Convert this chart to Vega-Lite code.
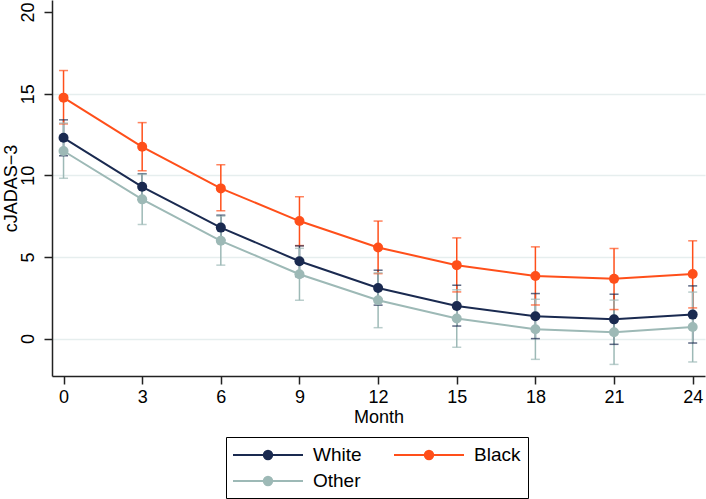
{
  "$schema": "https://vega.github.io/schema/vega-lite/v6.json",
  "width": 653,
  "height": 376,
  "autosize": {"type": "none"},
  "padding": {"left": 52, "top": 0, "right": 1, "bottom": 123},
  "background": "white",
  "config": {
    "view": {"stroke": null},
    "font": "Liberation Sans",
    "axis": {
      "labelFont": "Liberation Sans",
      "titleFont": "Liberation Sans",
      "labelFontSize": 18,
      "titleFontSize": 18,
      "titleFontWeight": "normal",
      "labelColor": "#000000",
      "titleColor": "#000000",
      "domainColor": "#222222",
      "tickColor": "#222222",
      "domainWidth": 1.5,
      "tickWidth": 1.5,
      "tickSize": 8
    },
    "legend": {
      "labelFont": "Liberation Sans",
      "labelFontSize": 19,
      "labelColor": "#000000"
    }
  },
  "data": {
    "values": [
      {"month": 0, "group": "White", "mean": 12.3, "lo": 11.2, "hi": 13.4},
      {"month": 3, "group": "White", "mean": 9.3, "lo": 8.5, "hi": 10.1},
      {"month": 6, "group": "White", "mean": 6.8, "lo": 6.04, "hi": 7.56},
      {"month": 9, "group": "White", "mean": 4.74, "lo": 3.8, "hi": 5.68},
      {"month": 12, "group": "White", "mean": 3.1, "lo": 2.05, "hi": 4.19},
      {"month": 15, "group": "White", "mean": 2.0, "lo": 0.77, "hi": 3.27},
      {"month": 18, "group": "White", "mean": 1.37, "lo": 0.0, "hi": 2.76},
      {"month": 21, "group": "White", "mean": 1.18, "lo": -0.35, "hi": 2.72},
      {"month": 24, "group": "White", "mean": 1.47, "lo": -0.27, "hi": 3.23},
      {"month": 0, "group": "Black", "mean": 14.76, "lo": 13.15, "hi": 16.42},
      {"month": 3, "group": "Black", "mean": 11.75, "lo": 10.28, "hi": 13.23},
      {"month": 6, "group": "Black", "mean": 9.2, "lo": 7.83, "hi": 10.65},
      {"month": 9, "group": "Black", "mean": 7.2, "lo": 5.7, "hi": 8.69},
      {"month": 12, "group": "Black", "mean": 5.58, "lo": 3.98, "hi": 7.2},
      {"month": 15, "group": "Black", "mean": 4.5, "lo": 2.86, "hi": 6.17},
      {"month": 18, "group": "Black", "mean": 3.84, "lo": 2.06, "hi": 5.62},
      {"month": 21, "group": "Black", "mean": 3.66, "lo": 1.78, "hi": 5.52},
      {"month": 24, "group": "Black", "mean": 3.96, "lo": 1.88, "hi": 5.99},
      {"month": 0, "group": "Other", "mean": 11.49, "lo": 9.82, "hi": 13.2},
      {"month": 3, "group": "Other", "mean": 8.53, "lo": 6.99, "hi": 10.07},
      {"month": 6, "group": "Other", "mean": 5.99, "lo": 4.5, "hi": 7.5},
      {"month": 9, "group": "Other", "mean": 3.94, "lo": 2.35, "hi": 5.53},
      {"month": 12, "group": "Other", "mean": 2.35, "lo": 0.67, "hi": 4.03},
      {"month": 15, "group": "Other", "mean": 1.23, "lo": -0.53, "hi": 2.99},
      {"month": 18, "group": "Other", "mean": 0.57, "lo": -1.27, "hi": 2.41},
      {"month": 21, "group": "Other", "mean": 0.39, "lo": -1.58, "hi": 2.36},
      {"month": 24, "group": "Other", "mean": 0.71, "lo": -1.43, "hi": 2.85}
    ]
  },
  "encoding": {
    "x": {
      "field": "month",
      "type": "quantitative",
      "scale": {"domain": [-0.44, 24.47], "nice": false, "zero": false},
      "axis": {
        "values": [0, 3, 6, 9, 12, 15, 18, 21, 24],
        "title": "Month",
        "grid": false,
        "labelPadding": 4,
        "titlePadding": 2
      }
    },
    "color": {
      "field": "group",
      "type": "nominal",
      "scale": {"domain": ["White", "Black", "Other"], "range": ["#1a2a50", "#ff4f1a", "#9db9b6"]},
      "legend": {
        "title": null,
        "orient": "none",
        "legendX": 174,
        "legendY": 437,
        "direction": "horizontal",
        "columns": 2,
        "symbolType": "M-3.5,0L3.5,0M-0.42,0A0.42,0.42,0,1,1,0.42,0A0.42,0.42,0,1,1,-0.42,0Z",
        "symbolSize": 400,
        "symbolStrokeWidth": 2,
        "symbolOffset": 24,
        "labelOffset": 34,
        "columnPadding": 28,
        "rowPadding": 5,
        "padding": 7,
        "strokeColor": "#000000",
        "fillColor": "#ffffff",
        "encode": {
          "symbols": {
            "update": {
              "fill": {"scale": "color", "field": "value"},
              "stroke": {"scale": "color", "field": "value"},
              "opacity": {"value": 1}
            }
          }
        }
      }
    }
  },
  "layer": [
    {
      "mark": {"type": "rule", "strokeWidth": 1.5},
      "encoding": {
        "y": {
          "field": "lo",
          "type": "quantitative",
          "scale": {"domain": [-2.29, 20.74], "nice": false, "zero": false},
          "axis": {
            "values": [0, 5, 10, 15, 20],
            "title": "cJADAS−3",
            "labelAngle": -90,
            "labelPadding": 7,
            "titleX": -41,
            "titleY": 188,
            "titleAngle": -90,
            "titleAlign": "center",
            "titleBaseline": "middle",
            "grid": true,
            "gridColor": {"condition": {"test": "datum.value == 20", "value": "transparent"}, "value": "#e6eeee"},
            "gridWidth": 1.5
          }
        },
        "y2": {"field": "hi"}
      }
    },
    {
      "mark": {"type": "tick", "orient": "horizontal", "size": 9, "thickness": 1.5},
      "encoding": {"y": {"field": "lo", "type": "quantitative"}}
    },
    {
      "mark": {"type": "tick", "orient": "horizontal", "size": 9, "thickness": 1.5},
      "encoding": {"y": {"field": "hi", "type": "quantitative"}}
    },
    {
      "mark": {"type": "line", "strokeWidth": 2},
      "encoding": {"y": {"field": "mean", "type": "quantitative"}}
    },
    {
      "mark": {"type": "point", "filled": true, "opacity": 1, "size": 100},
      "encoding": {"y": {"field": "mean", "type": "quantitative"}}
    }
  ]
}
